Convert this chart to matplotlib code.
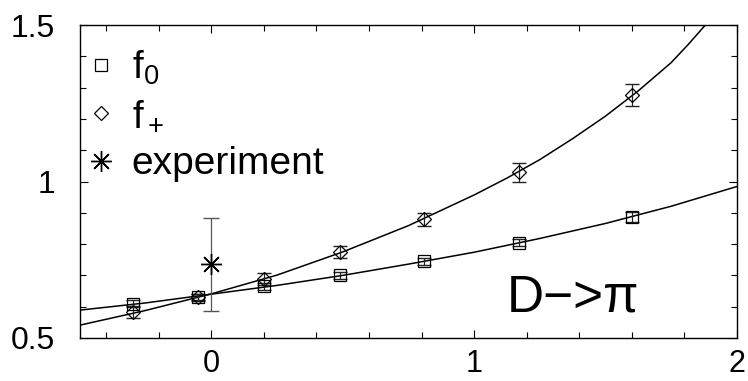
import matplotlib
matplotlib.use("Agg")
import matplotlib.pyplot as plt
from matplotlib.ticker import MultipleLocator

plt.rcParams['font.family'] = ['Liberation Sans', 'DejaVu Sans']
plt.rcParams['mathtext.fontset'] = 'custom'
plt.rcParams['mathtext.rm'] = 'Liberation Sans'
plt.rcParams['mathtext.it'] = 'Liberation Sans'

# lattice points (q^2 in GeV^2)
q2 = [-0.30, -0.05, 0.20, 0.49, 0.81, 1.17, 1.60]
f0 = [0.610, 0.630, 0.665, 0.700, 0.745, 0.805, 0.887]
f0_err = [0.012, 0.010, 0.012, 0.012, 0.012, 0.012, 0.015]
fp = [0.583, 0.630, 0.688, 0.774, 0.879, 1.029, 1.277]
fp_err = [0.02, 0.012, 0.02, 0.02, 0.02, 0.03, 0.035]

# fit curves
fit_x0 = [-0.5, -0.25, 0.0, 0.25, 0.5, 0.75, 1.0, 1.25, 1.5, 1.75, 2.0]
fit_f0 = [0.589, 0.612, 0.640, 0.668, 0.700, 0.736, 0.774, 0.818, 0.866, 0.921, 0.984]
fit_xp = [-0.5, -0.25, 0.0, 0.25, 0.5, 0.75, 1.0, 1.125, 1.25, 1.375, 1.5, 1.625, 1.75, 1.815, 1.88]
fit_fp = [0.541, 0.588, 0.641, 0.701, 0.775, 0.859, 0.957, 1.011, 1.070, 1.137, 1.209, 1.290, 1.380, 1.438, 1.500]

# experiment
exp_x = [0.0]
exp_y = [0.735]
exp_err = [0.15]

fig = plt.figure(figsize=(7.48, 3.81), dpi=100)
ax = fig.add_axes([0.107, 0.113, 0.878, 0.821])

ax.plot(fit_x0, fit_f0, color='black', lw=1.1)
ax.plot(fit_xp, fit_fp, color='black', lw=1.1)

ax.errorbar(q2, f0, yerr=f0_err, fmt='none', ecolor='#222222', elinewidth=0.9, capsize=5)
ax.errorbar(q2, fp, yerr=fp_err, fmt='none', ecolor='#222222', elinewidth=0.9, capsize=5)
ax.errorbar(exp_x, exp_y, yerr=exp_err, fmt='none', ecolor='#555555', elinewidth=0.9, capsize=6)

ax.plot(q2, f0, 's', ms=8, mfc='none', mec='black', mew=0.9, label=r'f$_0$')
ax.plot(q2, fp, 'D', ms=7, mfc='none', mec='black', mew=0.9, label=r'f$_+$')
ax.plot(exp_x, exp_y, marker=(8, 2, 0), ls='none', ms=15, mec='black', mew=1.0, label='experiment')

ax.text(1.125, 0.586, 'D−>π', fontsize=37, ha='left', va='baseline')

ax.set_xlim(-0.5, 2)
ax.set_ylim(0.5, 1.5)
ax.xaxis.set_minor_locator(MultipleLocator(0.2))
ax.yaxis.set_minor_locator(MultipleLocator(0.1))
ax.set_yticks([0.5, 1.0, 1.5])
ax.set_yticklabels(['0.5', '1', '1.5'])
ax.set_xticks([0, 1, 2])
ax.set_xticklabels(['0', '1', '2'])
ax.tick_params(which='both', direction='in', top=True, right=True, labelsize=23, width=0.8)
ax.tick_params(which='major', length=6)
ax.tick_params(which='minor', length=4)
ax.tick_params(axis='x', which='major', pad=8, labelsize=22)
ax.tick_params(axis='y', which='major', pad=18)
for s in ax.spines.values():
    s.set_linewidth(1.0)

ax.legend(loc='upper left', bbox_to_anchor=(-0.01, 0.95), frameon=False, fontsize=28,
          handlelength=1.0, handletextpad=0.3, labelspacing=0.3, borderaxespad=0,
          borderpad=0.2)

fig.savefig('out.png', dpi=100)
